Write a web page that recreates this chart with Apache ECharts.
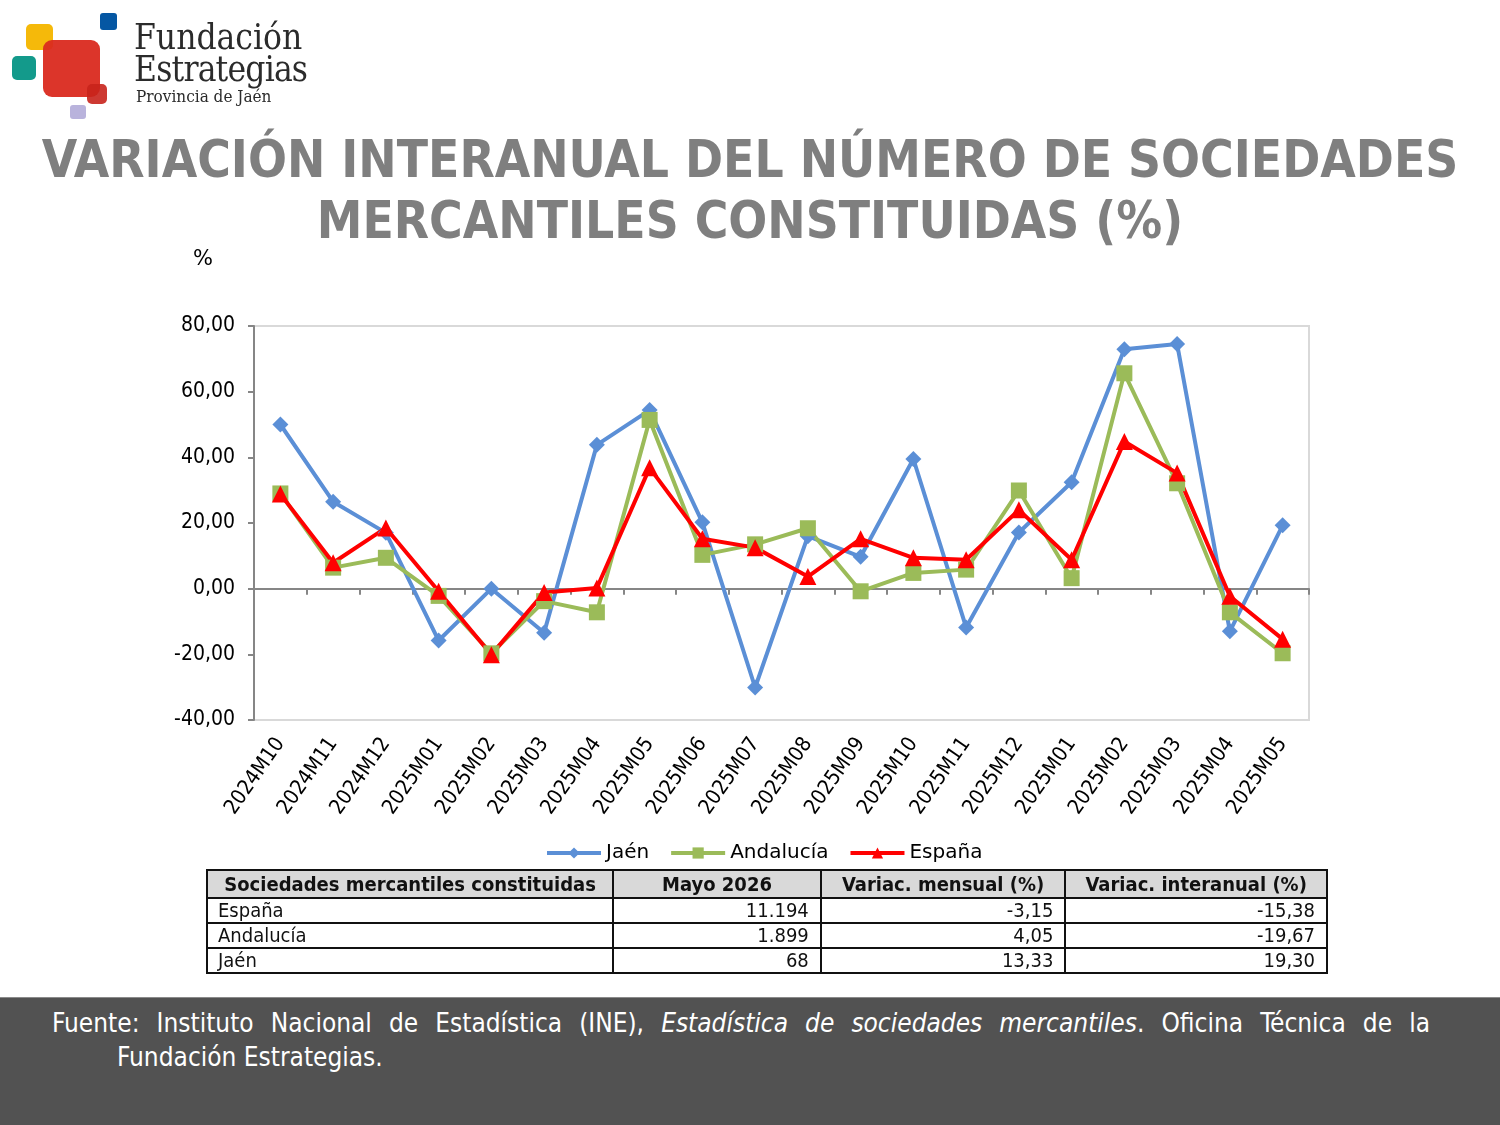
<!DOCTYPE html>
<html>
<head>
<meta charset="utf-8">
<script src="https://cdn.jsdelivr.net/npm/echarts@6/dist/echarts.min.js"></script>
<style>
  html, body { margin: 0; padding: 0; background: #fff; }
  .page { position: relative; width: 1500px; height: 1125px; overflow: hidden; }
  #lineChart { position: absolute; left: 0; top: 0; width: 1500px; height: 870px; }
  .sq { position: absolute; border-radius: 5px; }
  .logo-text { position: absolute; font-family: "DejaVu Serif Condensed", "DejaVu Serif", serif; color: #2b2b2b; white-space: nowrap; }
  table.resumen { position: absolute; left: 206px; top: 869px; width: 1122px; border-collapse: collapse;
    font-family: "DejaVu Sans Condensed", "DejaVu Sans", sans-serif; font-size: 20px; color: #111; }
  table.resumen td, table.resumen th { border: 2px solid #111; padding: 0 11px; }
  table.resumen th { background: #d9d9d9; font-weight: bold; height: 26px; line-height: 26px; text-align: center; }
  table.resumen td { height: 23px; line-height: 23px; text-align: right; }
  table.resumen td.first { text-align: left; padding-left: 10px; }
  .footer { position: absolute; left: 0; top: 997px; width: 1500px; height: 128px; background: #525252;
    border-top: 1px solid #8a8a8a; color: #fff; font-family: "DejaVu Sans Condensed", "DejaVu Sans", sans-serif; font-size: 26px; }
  .footer div { position: absolute; white-space: nowrap; }
</style>
</head>
<body>
<div class="page">
  <div id="lineChart"></div>

  <!-- logo -->
  <div class="sq" style="left:26px;top:24px;width:27px;height:26px;background:#f5b90a;"></div>
  <div class="sq" style="left:12px;top:56px;width:24px;height:24px;background:#139a8b;"></div>
  <div class="sq" style="left:43px;top:40px;width:57px;height:57px;background:#da2a1f;opacity:0.95;border-radius:9px;"></div>
  <div class="sq" style="left:87px;top:84px;width:20px;height:20px;background:#c8241c;opacity:0.9;"></div>
  <div class="sq" style="left:100px;top:13px;width:17px;height:17px;background:#0557a3;border-radius:3px;"></div>
  <div class="sq" style="left:70px;top:105px;width:16px;height:14px;background:#b9b3dc;border-radius:3px;"></div>
  <div class="logo-text" style="left:134px;top:17px;font-size:35px;">Fundación</div>
  <div class="logo-text" style="left:134px;top:49px;font-size:35px;letter-spacing:-0.8px;">Estrategias</div>
  <div class="logo-text" style="left:136px;top:86px;font-size:17px;">Provincia de Jaén</div>

  <table class="resumen" id="resumen"></table>

  <div class="footer">
    <div style="left:52px;top:10px;width:1378px;text-align:justify;text-align-last:justify;">Fuente: Instituto Nacional de Estadística (INE), <i>Estadística de sociedades mercantiles</i>. Oficina Técnica de la</div>
    <div style="left:117px;top:44px;">Fundación Estrategias.</div>
  </div>
</div>

<script>
// categorías del eje x
const categorias = ["2024M10", "2024M11", "2024M12", "2025M01", "2025M02", "2025M03", "2025M04",
  "2025M05", "2025M06", "2025M07", "2025M08", "2025M09", "2025M10", "2025M11", "2025M12",
  "2025M01", "2025M02", "2025M03", "2025M04", "2025M05"];

// variación interanual (%)
const jaen = [50.0, 26.5, 17.0, -15.8, 0.0, -13.4, 43.8, 54.4, 20.2, -30.1, 16.0, 9.7, 39.5, -11.8, 17.1, 32.4, 72.9, 74.5, -13.0, 19.30];
const andalucia = [29.0, 6.4, 9.4, -2.2, -19.7, -3.8, -7.2, 51.4, 10.3, 13.5, 18.4, -0.8, 4.8, 5.8, 29.9, 3.2, 65.6, 32.1, -7.2, -19.67];
const espana = [28.8, 7.9, 18.5, -0.8, -20.1, -1.2, 0.2, 36.8, 15.2, 12.5, 3.7, 15.2, 9.4, 8.8, 24.0, 8.8, 44.8, 35.2, -2.3, -15.38];

// ticks eje y
const yMin = -40, yMax = 80, yStep = 20;

// tabla resumen
const cabecera = ["Sociedades mercantiles constituidas", "Mayo 2026", "Variac. mensual (%)", "Variac. interanual (%)"];
const territorios = ["España", "Andalucía", "Jaén"];
const mayo2026 = ["11.194", "1.899", "68"];
const variacMensual = ["-3,15", "4,05", "13,33"];
const variacInteranual = ["-15,38", "-19,67", "19,30"];

const colWidths = [407, 208, 245, 262];
let html = "<tr>" + cabecera.map((c, i) => `<th style="width:${colWidths[i] - 24}px">${c}</th>`).join("") + "</tr>";
territorios.forEach((t, i) => {
  html += `<tr><td class="first">${t}</td><td>${mayo2026[i]}</td><td>${variacMensual[i]}</td><td>${variacInteranual[i]}</td></tr>`;
});
document.getElementById("resumen").innerHTML = html;

const font = '"DejaVu Sans Condensed", "DejaVu Sans", sans-serif';
let lineChart = echarts.init(document.getElementById("lineChart"));
let option = {
  animation: false,
  textStyle: { fontFamily: font },
  graphic: [
    {
      type: "text",
      x: 750,
      y: 133,
      style: {
        text: "VARIACIÓN INTERANUAL DEL NÚMERO DE SOCIEDADES\nMERCANTILES CONSTITUIDAS (%)",
        align: "center",
        verticalAlign: "top",
        fontFamily: font,
        fontSize: 51,
        fontWeight: "bold",
        lineHeight: 61,
        fill: "#7f7f7f"
      }
    },
    { type: "text", left: 193, top: 249, style: { text: "%", fontSize: 21, fontFamily: "DejaVu Sans", fill: "#000" } }
  ],
  legend: {
    left: 540,
    top: 838,
    itemWidth: 54,
    itemHeight: 14,
    itemGap: 20,
    lineStyle: { width: 4 },
    textStyle: { fontFamily: "DejaVu Sans", fontSize: 20, color: "#000" },
    data: ["Jaén", "Andalucía", "España"]
  },
  grid: {
    left: 254,
    right: 191,
    top: 326,
    bottom: 150,
    show: true,
    borderColor: "#d9d9d9",
    borderWidth: 2,
    containLabel: false
  },
  xAxis: [
    {
      type: "category",
      position: "bottom",
      data: categorias,
      boundaryGap: true,
      axisLine: { show: false, onZero: false },
      axisTick: { show: false },
      axisLabel: { interval: 0, rotate: 55, fontSize: 21, color: "#000", margin: 20, fontFamily: font }
    },
    {
      type: "category",
      position: "bottom",
      data: categorias,
      boundaryGap: true,
      axisLine: { show: true, onZero: true, lineStyle: { color: "#868686", width: 2 } },
      axisTick: { show: true, length: 6, interval: 0, lineStyle: { color: "#868686", width: 2 } },
      axisLabel: { show: false }
    }
  ],
  yAxis: {
    type: "value",
    min: yMin,
    max: yMax,
    interval: yStep,
    splitLine: { show: false },
    axisLine: { show: true, lineStyle: { color: "#868686", width: 2 } },
    axisTick: { show: true, length: 6, lineStyle: { color: "#868686", width: 2 } },
    axisLabel: {
      fontSize: 21,
      color: "#000",
      margin: 19,
      fontFamily: font,
      formatter: v => v.toFixed(2).replace(".", ",")
    }
  },
  series: [
    {
      name: "Jaén",
      type: "line",
      xAxisIndex: 0,
      symbol: "diamond",
      symbolSize: 16,
      itemStyle: { color: "#5b8fd6" },
      lineStyle: { color: "#5b8fd6", width: 4 },
      data: jaen
    },
    {
      name: "Andalucía",
      type: "line",
      xAxisIndex: 0,
      symbol: "rect",
      symbolSize: 16,
      itemStyle: { color: "#9bbb59" },
      lineStyle: { color: "#9bbb59", width: 4 },
      data: andalucia
    },
    {
      name: "España",
      type: "line",
      xAxisIndex: 0,
      symbol: "triangle",
      symbolSize: 17,
      itemStyle: { color: "#ff0000" },
      lineStyle: { color: "#ff0000", width: 4 },
      data: espana
    }
  ]
};
lineChart.setOption(option);
</script>
</body>
</html>
